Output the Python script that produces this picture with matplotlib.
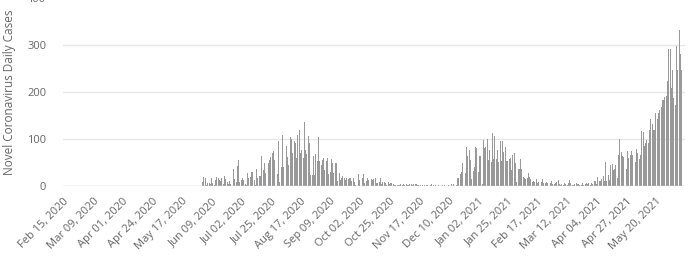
"""Daily novel coronavirus cases, Jun 2020 - Jun 2021 (column chart)."""

import matplotlib

matplotlib.use("Agg")

import matplotlib.dates as mdates  # noqa: E402
import matplotlib.pyplot as plt  # noqa: E402
import pandas as pd  # noqa: E402

plt.rcParams["font.family"] = ["Open Sans", "DejaVu Sans"]

# first day with reported cases; earlier days are all zero
first_day = "2020-06-02"

cases_jun_2020 = [9, 19, 16, 3, 6, 7, 4, 18, 6, 3, 12, 20, 17, 12, 10, 18, 4, 22,
                  15, 9, 4, 10, 4, 0, 36, 15, 8, 42, 55]
cases_jul_2020 = [9, 12, 17, 12, 5, 2, 28, 17, 20, 30, 30, 12, 3, 36, 18, 21, 21,
                  64, 34, 48, 27, 48, 50, 55, 62, 70, 75, 56, 43, 25, 96]
cases_aug_2020 = [8, 41, 108, 41, 98, 86, 62, 45, 105, 100, 71, 96, 91, 60, 108,
                  120, 71, 76, 59, 136, 77, 68, 106, 91, 23, 23, 64, 24, 68, 54, 104]
cases_sep_2020 = [54, 45, 55, 59, 34, 54, 59, 25, 30, 58, 48, 27, 48, 48, 10, 28,
                  13, 18, 21, 16, 13, 16, 14, 17, 16, 10, 18, 8, 2, 0]
cases_oct_2020 = [26, 13, 10, 16, 26, 7, 10, 16, 12, 22, 14, 13, 14, 16, 7, 6, 9,
                  16, 4, 8, 8, 6, 3, 8, 4, 6, 7, 4, 3, 2, 3]
cases_nov_2020 = [2, 3, 4, 2, 4, 2, 4, 2, 3, 4, 4, 2, 4, 4, 5, 3, 2, 2, 0, 3, 2, 0,
                  3, 2, 0, 3, 4, 2, 0, 2]
cases_dec_2020 = [0, 2, 0, 0, 3, 0, 2, 0, 0, 3, 0, 4, 0, 5, 0, 3, 18, 16, 26, 30,
                  50, 40, 28, 84, 64, 77, 55, 14, 32, 41, 82]
cases_jan_2021 = [80, 30, 64, 64, 4, 98, 80, 84, 101, 55, 77, 51, 112, 57, 106, 57,
                  76, 52, 96, 54, 96, 72, 84, 54, 53, 57, 59, 33, 66, 70, 48]
cases_feb_2021 = [9, 36, 37, 57, 36, 20, 18, 15, 18, 28, 20, 14, 9, 11, 9, 14, 6, 9,
                  14, 9, 14, 7, 6, 9, 6, 10, 6, 10]
cases_mar_2021 = [4, 4, 7, 9, 13, 4, 3, 4, 2, 6, 4, 2, 6, 13, 7, 2, 3, 4, 6, 4, 4, 2,
                  3, 6, 2, 4, 7, 4, 6, 2, 6]
cases_apr_2021 = [4, 10, 11, 4, 20, 10, 10, 14, 21, 10, 52, 11, 23, 13, 44, 47, 35,
                  37, 44, 18, 67, 101, 72, 64, 62, 47, 37, 74, 60, 67]
cases_may_2021 = [74, 65, 60, 51, 79, 71, 58, 66, 117, 115, 85, 91, 98, 91, 119, 143,
                  132, 119, 119, 156, 143, 155, 162, 169, 183, 183, 189, 191, 224,
                  291, 292]
cases_jun_2021 = [209, 247, 187, 173, 298, 247, 332, 281, 247]

# x-axis labels: every 23 days from Feb 15, 2020
tick_start = "2020-02-15"
tick_step_days = 23
tick_count = 21

daily_cases = (cases_jun_2020 + cases_jul_2020 + cases_aug_2020 + cases_sep_2020
               + cases_oct_2020 + cases_nov_2020 + cases_dec_2020 + cases_jan_2021
               + cases_feb_2021 + cases_mar_2021 + cases_apr_2021 + cases_may_2021
               + cases_jun_2021)
dates = pd.date_range(first_day, periods=len(daily_cases), freq="D")
ticks = pd.date_range(tick_start, periods=tick_count, freq=f"{tick_step_days}D")

fig = plt.figure(figsize=(6.91, 2.58), dpi=100)
ax = fig.add_axes([63 / 691, 72 / 258, 622 / 691, 188 / 258])

ax.bar(dates, daily_cases, width=0.75, color="#999999", linewidth=0, zorder=2)

start = mdates.date2num(pd.Timestamp(tick_start))
ax.set_xlim(start - 0.4, start + 482.6)
ax.set_ylim(0, 400)
ax.set_yticks([0, 100, 200, 300, 400])
ax.set_xticks(ticks)
ax.set_xticklabels([t.strftime("%b %d, %Y") for t in ticks], rotation=45,
                   ha="right", rotation_mode="anchor")

ax.grid(axis="y", color="#e6e6e6", linewidth=1, zorder=0)
ax.axhline(0, color="#ccd6eb", linewidth=1, zorder=3)
for side in ax.spines.values():
    side.set_visible(False)
ax.tick_params(axis="both", length=0, labelsize=8, colors="#666666")
ax.tick_params(axis="y", pad=12)
ax.tick_params(axis="x", pad=7)

ax.set_ylabel("Novel Coronavirus Daily Cases", fontsize=8.5, color="#666666",
              labelpad=8)

fig.savefig("out.png", dpi=100)
plt.close(fig)
